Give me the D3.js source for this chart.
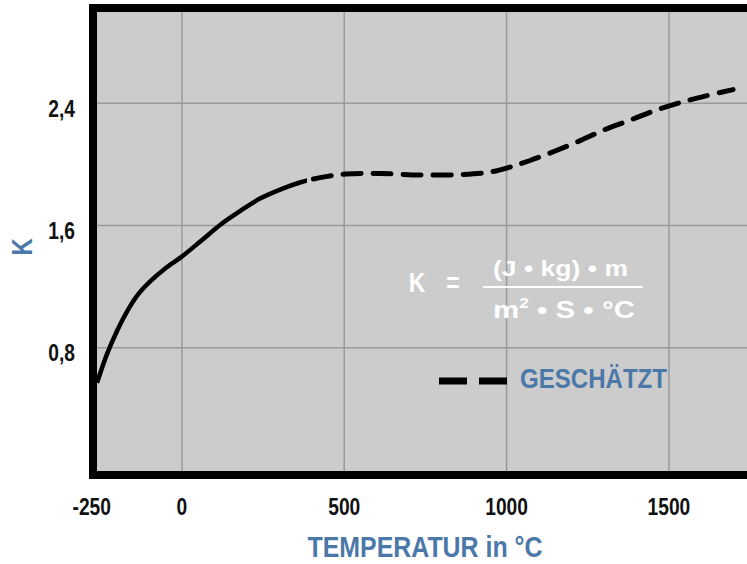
<!DOCTYPE html>
<html>
<head>
<meta charset="utf-8">
<script src="https://cdn.jsdelivr.net/npm/d3@7"></script>
<style>
  body { margin: 0; background: #fff; }
  svg { display: block; }
  text { font-family: "Liberation Sans", Arial, sans-serif; font-weight: bold; }
</style>
</head>
<body>
<svg id="chart" width="747" height="564"></svg>
<script>
// Werte
const tempC = [-260, -229, -198, -168, -134, -97, -51, -1, 57, 119, 180, 242, 304, 365, 427, 507,
  611, 735, 858, 950, 1012, 1074, 1151, 1228, 1305, 1382, 1459, 1536, 1613, 1699];
const kWert = [0.567, 0.757, 0.908, 1.032, 1.144, 1.229, 1.314, 1.39, 1.49, 1.60, 1.69, 1.773, 1.832, 1.878, 1.910, 1.934,
  1.937, 1.927, 1.930, 1.946, 1.979, 2.022, 2.084, 2.152, 2.225, 2.286, 2.349, 2.401, 2.443, 2.486];
const geschaetztAb = 387; // ab hier gestrichelt (geschätzt)

const xTicks = [-250, 0, 500, 1000, 1500];
const yTicks = [0.8, 1.6, 2.4];
const yLabels = ['0,8', '1,6', '2,4'];

const blau = '#4a78a8';

const svg = d3.select('#chart');

const pLeft = 97, pTop = 12, pBottom = 471, pRight = 760;

const x = d3.scaleLinear().domain([-260, 1750]).range([pLeft, pLeft + 2010 * 0.32467]);
const y = d3.scaleLinear().domain([0, 3.0]).range([469.6, 11]);

// schmale Schrift nachbilden
function schmal(sel, f) {
  sel.each(function() {
    const w = this.getComputedTextLength();
    d3.select(this).attr('textLength', w * f).attr('lengthAdjust', 'spacingAndGlyphs');
  });
}

// Hintergrund
svg.append('rect')
  .attr('x', pLeft).attr('y', pTop)
  .attr('width', pRight - pLeft).attr('height', pBottom - pTop)
  .attr('fill', '#cccccc');

// Gitterlinien
svg.append('g')
  .attr('transform', `translate(0,${pBottom})`)
  .call(d3.axisBottom(x).tickValues(xTicks.slice(1)).tickSize(-(pBottom - pTop)).tickFormat(''))
  .call(g => g.select('.domain').remove())
  .call(g => g.selectAll('line').attr('stroke', '#9a9a9a').attr('stroke-width', 1.5));

svg.append('g')
  .attr('transform', `translate(${pLeft},0)`)
  .call(d3.axisLeft(y).tickValues(yTicks).tickSize(-(pRight - pLeft)).tickFormat(''))
  .call(g => g.select('.domain').remove())
  .call(g => g.selectAll('line').attr('stroke', '#9a9a9a').attr('stroke-width', 1.5));

// Kurve: ein Pfad, per Clip in gemessen / geschätzt geteilt
const pts = tempC.map((t, i) => [t, kWert[i]]);
const linie = d3.line().x(d => x(d[0])).y(d => y(d[1])).curve(d3.curveCatmullRom.alpha(0.5));

const defs = svg.append('defs');
defs.append('clipPath').attr('id', 'clipSolid')
  .append('rect').attr('x', 0).attr('y', 0).attr('width', x(geschaetztAb)).attr('height', 564);
defs.append('clipPath').attr('id', 'clipDash')
  .append('rect').attr('x', x(geschaetztAb)).attr('y', 0).attr('width', 800).attr('height', 564);

svg.append('path')
  .datum(pts)
  .attr('d', linie)
  .attr('clip-path', 'url(#clipSolid)')
  .attr('fill', 'none').attr('stroke', '#000').attr('stroke-width', 4.5);

const dashPath = svg.append('path')
  .datum(pts)
  .attr('d', linie)
  .attr('clip-path', 'url(#clipDash)')
  .attr('fill', 'none').attr('stroke', '#000').attr('stroke-width', 5)
  .attr('stroke-linecap', 'round');
// Strichmuster so legen, dass am Übergang eine Lücke beginnt
const tmp = svg.append('path').attr('d', linie(pts.filter(d => d[0] <= geschaetztAb))).attr('fill', 'none');
const offs = tmp.node().getTotalLength();
tmp.remove();
dashPath.attr('stroke-dasharray', '18,12').attr('stroke-dashoffset', 16 - offs);

// Rahmen
svg.append('rect')
  .attr('x', pLeft - 4).attr('y', pTop - 4)
  .attr('width', 800).attr('height', pBottom - pTop + 8)
  .attr('fill', 'none').attr('stroke', '#000').attr('stroke-width', 8);

// Achsenbeschriftung
svg.append('g')
  .attr('transform', `translate(0,${pBottom + 19})`)
  .call(d3.axisBottom(x).tickValues(xTicks).tickSize(0).tickPadding(0).tickFormat(d => String(d)))
  .call(g => g.select('.domain').remove())
  .call(g => g.selectAll('text')
    .attr('font-size', 24).attr('fill', '#111')
    .attr('font-family', null)
    .attr('dx', d => d === -250 ? -9 : 0)
    .attr('dy', '1.05em')
    .call(schmal, 0.8));

svg.append('g')
  .attr('transform', `translate(${pLeft - 22},0)`)
  .call(d3.axisLeft(y).tickValues(yTicks).tickSize(0).tickPadding(0).tickFormat((d, i) => yLabels[i]))
  .call(g => g.select('.domain').remove())
  .call(g => g.selectAll('text')
    .attr('font-size', 24).attr('fill', '#111')
    .attr('font-family', null)
    .attr('dy', 13.5)
    .call(schmal, 0.8));

svg.append('text')
  .attr('x', 425).attr('y', 557)
  .attr('text-anchor', 'middle')
  .attr('font-size', 29).attr('fill', blau)
  .attr('textLength', 235).attr('lengthAdjust', 'spacingAndGlyphs')
  .text('TEMPERATUR in °C');

svg.append('text')
  .attr('transform', 'translate(32,247) rotate(-90)')
  .attr('text-anchor', 'middle')
  .attr('font-size', 29).attr('fill', blau)
  .text('K')
  .call(schmal, 0.82);

// Formel
const formel = svg.append('g').attr('fill', '#fff');
formel.append('text').attr('x', 417).attr('y', 292).attr('text-anchor', 'middle')
  .attr('font-size', 28).text('K').call(schmal, 0.82);
formel.append('text').attr('x', 453).attr('y', 292).attr('text-anchor', 'middle')
  .attr('font-size', 28).text('=').call(schmal, 0.82);
formel.append('line')
  .attr('x1', 483).attr('x2', 643).attr('y1', 287).attr('y2', 287)
  .attr('stroke', '#fff').attr('stroke-width', 2);
formel.append('text').attr('x', 493).attr('y', 276)
  .attr('font-size', 22).attr('textLength', 135).attr('lengthAdjust', 'spacingAndGlyphs')
  .text('(J • kg) • m');
const nenner = formel.append('text').attr('x', 493).attr('y', 318)
  .attr('font-size', 24).attr('textLength', 142).attr('lengthAdjust', 'spacingAndGlyphs');
nenner.append('tspan').text('m');
nenner.append('tspan').attr('font-size', 14).attr('dy', -10).text('2');
nenner.append('tspan').attr('dy', 10).text(' • S  •  °C');

// Legende
svg.append('line')
  .attr('x1', 439).attr('x2', 507).attr('y1', 381).attr('y2', 381)
  .attr('stroke', '#000').attr('stroke-width', 7)
  .attr('stroke-dasharray', '28,12');
svg.append('text')
  .attr('x', 520).attr('y', 388)
  .attr('font-size', 28).attr('fill', blau)
  .attr('textLength', 147).attr('lengthAdjust', 'spacingAndGlyphs')
  .text('GESCHÄTZT');
</script>
</body>
</html>
